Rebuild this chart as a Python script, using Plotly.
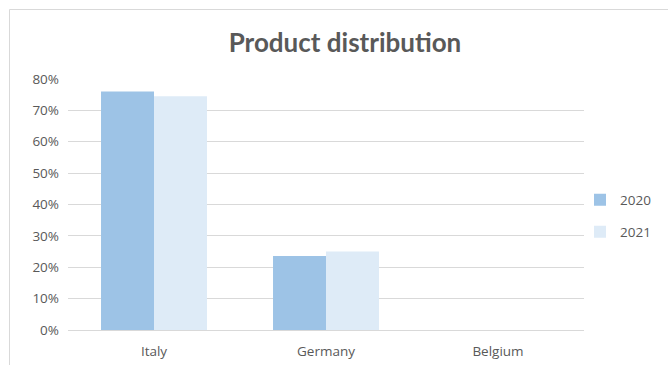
import plotly.graph_objects as go

categories = ["Italy", "Germany", "Belgium"]
series_names = ["2020", "2021"]
values_2020 = [0.76, 0.236, 0.0]
values_2021 = [0.745, 0.25, 0.0]
colors = ["#9DC3E6", "#DEEBF7"]
tick_vals = [0, 0.1, 0.2, 0.3, 0.4, 0.5, 0.6, 0.7, 0.8]
tick_text = ["0%", "10%", "20%", "30%", "40%", "50%", "60%", "70%", "80%"]

W, H = 668, 365
L, R, T, B = 68, 84, 79, 35
pw, ph = W - L - R, H - T - B

def px_x(x):
    return (x - L) / pw

def px_y(y):
    return (H - B - y) / ph

fig = go.Figure()
fig.add_trace(go.Bar(x=categories, y=values_2020, name=series_names[0],
                     marker=dict(color=colors[0], line=dict(width=0)), legend="legend"))
fig.add_trace(go.Bar(x=categories, y=values_2021, name=series_names[1],
                     marker=dict(color=colors[1], line=dict(width=0)), legend="legend2"))

font_tick = dict(family="Open Sans, Liberation Sans, sans-serif", size=13.5, color="#595959")

fig.update_layout(
    width=W, height=H,
    margin=dict(l=L, r=R, t=T, b=B, autoexpand=False),
    paper_bgcolor="white", plot_bgcolor="white",
    barmode="group", bargap=0.384, bargroupgap=0,
    title=dict(text="<b>Product distribution</b>", x=px_x(345), xref="paper", xanchor="center",
               y=1 - 43 / H, yref="container", yanchor="middle",
               font=dict(family="Lato, Open Sans, sans-serif", size=26, color="#595959")),
    xaxis=dict(showgrid=False, showline=True, linecolor="#D9D9D9", linewidth=1,
               ticks="", tickfont=font_tick, fixedrange=True, ticklabelstandoff=9),
    yaxis=dict(range=[0, 0.8], tickvals=tick_vals, ticktext=tick_text, showgrid=True,
               gridcolor="#D9D9D9", gridwidth=1, zeroline=False, showline=False,
               ticks="", tickfont=font_tick, ticklabelstandoff=8),
    legend=dict(x=px_x(580), y=px_y(200), xanchor="left", yanchor="middle",
                font=font_tick, bgcolor="rgba(0,0,0,0)", itemwidth=30),
    legend2=dict(x=px_x(580), y=px_y(232), xanchor="left", yanchor="middle",
                 font=font_tick, bgcolor="rgba(0,0,0,0)", itemwidth=30),
    showlegend=True,
    shapes=[dict(type="rect", xref="paper", yref="paper",
                 x0=px_x(9.5), x1=px_x(680), y0=px_y(380), y1=px_y(9.5),
                 line=dict(color="#D9D9D9", width=1), fillcolor="rgba(0,0,0,0)", layer="below")],
)

fig.write_html("out.html")
